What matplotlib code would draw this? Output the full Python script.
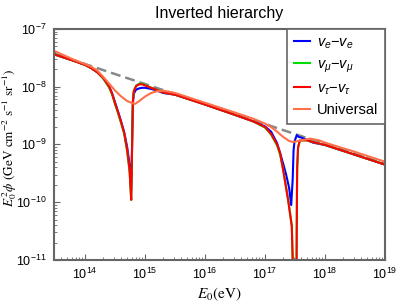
import matplotlib
matplotlib.use('Agg')
import matplotlib.pyplot as plt
import numpy as np

plt.rcParams['font.family'] = ['Liberation Sans', 'DejaVu Sans']
plt.rcParams['mathtext.fontset'] = 'custom'
plt.rcParams['mathtext.rm'] = 'Liberation Sans'
plt.rcParams['mathtext.it'] = 'Liberation Sans:italic'

# log10 of energy (eV) and log10 of flux
dashed_logE = [13.48, 19.0]
dashed_logF = [-7.43, -9.34]

nue_logE = [13.48, 13.8, 14.0, 14.1, 14.2, 14.3, 14.4, 14.45, 14.5, 14.55, 14.6, 14.65,
            14.7, 14.74, 14.765, 14.775, 14.785, 14.795, 14.81, 14.85, 14.9, 14.95, 15.0,
            15.1, 15.2, 15.3, 15.5, 16.0, 16.5, 16.8, 17.0, 17.1, 17.2, 17.25, 17.3, 17.35,
            17.4, 17.435, 17.46, 17.475, 17.49, 17.528, 17.56, 17.6, 17.8, 18.0, 18.5, 19.0]
nue_logF = [-7.44, -7.55, -7.625, -7.68, -7.75, -7.85, -8.00, -8.12, -8.28, -8.44, -8.61, -8.79,
            -9.05, -9.35, -9.80, -9.40, -8.80, -8.30, -8.12, -8.05, -8.03, -8.02, -8.02,
            -8.04, -8.07, -8.11, -8.14, -8.31, -8.49, -8.60, -8.69, -8.78, -8.98, -9.15, -9.33, -9.52,
            -9.75, -10.05, -9.60, -9.10, -8.95, -8.84, -8.87, -8.88, -8.97, -9.01, -9.18, -9.35]

numu_logE = [13.48, 13.8, 14.0, 14.1, 14.2, 14.3, 14.4, 14.45, 14.5, 14.55, 14.6, 14.65,
             14.7, 14.74, 14.767, 14.775, 14.785, 14.795, 14.81, 14.85, 14.9, 14.95, 15.0,
             15.1, 15.2, 15.3, 15.5, 16.0, 16.5, 16.8, 17.0, 17.1, 17.2, 17.25, 17.3, 17.383,
             17.445, 17.46, 17.49, 17.525, 17.53, 17.535, 17.55, 17.58, 17.62, 17.7, 17.8,
             18.0, 18.5, 19.0]
numu_logF = [-7.44, -7.55, -7.625, -7.68, -7.75, -7.86, -8.02, -8.14, -8.31, -8.47, -8.64, -8.82,
             -9.12, -9.47, -9.96, -9.50, -8.80, -8.25, -8.07, -7.98, -7.95, -7.95, -7.97,
             -8.02, -8.06, -8.10, -8.14, -8.31, -8.49, -8.60, -8.71, -8.83, -9.02, -9.18, -9.42, -9.95,
             -10.40, -11.0, -13.0, -11.0, -10.0, -9.4, -9.05, -8.94, -8.93, -8.93, -8.96,
             -9.01, -9.18, -9.35]

nutau_logE = [13.48, 13.8, 14.0, 14.1, 14.2, 14.3, 14.4, 14.45, 14.5, 14.55, 14.6, 14.65,
              14.7, 14.74, 14.767, 14.775, 14.785, 14.795, 14.81, 14.85, 14.9, 14.95, 15.0,
              15.1, 15.2, 15.3, 15.5, 16.0, 16.5, 16.8, 17.0, 17.1, 17.2, 17.25, 17.3, 17.383,
              17.445, 17.46, 17.49, 17.525, 17.53, 17.535, 17.55, 17.58, 17.62, 17.7, 17.8,
              18.0, 18.5, 19.0]
nutau_logF = [-7.44, -7.55, -7.625, -7.68, -7.75, -7.85, -8.00, -8.13, -8.30, -8.45, -8.62, -8.80,
              -9.10, -9.45, -9.96, -9.50, -8.80, -8.25, -8.08, -7.99, -7.96, -7.96, -7.98,
              -8.02, -8.06, -8.10, -8.14, -8.31, -8.49, -8.60, -8.70, -8.82, -9.00, -9.15, -9.44, -9.96,
              -10.42, -11.0, -13.0, -11.0, -10.0, -9.4, -9.05, -8.93, -8.93, -8.93, -8.96,
              -9.01, -9.18, -9.35]

univ_logE = [13.48, 13.8, 14.0, 14.1, 14.2, 14.3, 14.4, 14.5, 14.6, 14.7, 14.8, 14.83, 14.9,
             15.0, 15.1, 15.2, 15.3, 15.5, 16.0, 16.5, 16.8, 17.0, 17.1, 17.2, 17.3, 17.4,
             17.47, 17.55, 17.65, 17.75, 17.9, 18.0, 18.5, 19.0]
univ_logF = [-7.38, -7.53, -7.61, -7.655, -7.72, -7.83, -7.95, -8.07, -8.17, -8.25, -8.29, -8.30, -8.25,
             -8.17, -8.11, -8.08, -8.07, -8.11, -8.28, -8.45, -8.555, -8.64, -8.70, -8.78, -8.87, -8.94,
             -8.96, -8.94, -8.92, -8.90, -8.93, -8.97, -9.13, -9.30]

fig = plt.figure(figsize=(3.99, 3.04), dpi=100)
ax = fig.add_axes([0.135, 0.145, 0.83, 0.76])

ax.plot(10**np.array(dashed_logE), 10**np.array(dashed_logF), color='#888888', lw=1.8, ls=(0, (4, 2)))
ax.plot(10**np.array(nue_logE), 10**np.array(nue_logF), color='#0000ff', lw=1.5, label=r'$v_e{-}v_e$')
ax.plot(10**np.array(numu_logE), 10**np.array(numu_logF), color='#00dd00', lw=1.5, label=r'$v_\mu{-}v_\mu$')
ax.plot(10**np.array(nutau_logE), 10**np.array(nutau_logF), color='#ff0000', lw=1.5, label=r'$v_\tau{-}v_\tau$')
ax.plot(10**np.array(univ_logE), 10**np.array(univ_logF), color='#ff6f4a', lw=1.5, label='Universal')

ax.set_xscale('log')
ax.set_yscale('log')
ax.set_xlim(3e13, 1e19)
ax.set_ylim(1e-11, 1e-7)

for s in ax.spines.values():
    s.set_color('#666666')
    s.set_linewidth(1.5)
ax.tick_params(which='both', direction='in', colors='#666666', labelcolor='black', labelsize=9)
ax.tick_params(which='major', length=4, pad=5)
ax.tick_params(which='minor', length=2)

ax.set_title('Inverted hierarchy', fontsize=11.5, pad=8)
ax.set_xlabel(r'$E_0(\mathrm{eV})$', math_fontfamily='stix', fontsize=11)
ax.set_ylabel(r'$E_0^{\,2}\phi\ (\mathrm{GeV\ cm^{-2}\ s^{-1}\ sr^{-1}})$', math_fontfamily='stix', fontsize=9.5)
ax.xaxis.set_label_coords(0.5, -0.11)
ax.yaxis.set_label_coords(-0.105, 0.53)

leg = ax.legend(loc='upper right', borderaxespad=0, fancybox=False, fontsize=10.5,
                handlelength=1.1, handletextpad=0.5, labelspacing=0.45, borderpad=0.45, framealpha=1)
leg.get_frame().set_edgecolor('#666666')
leg.get_frame().set_linewidth(1.2)

fig.savefig('out.png', dpi=100)
